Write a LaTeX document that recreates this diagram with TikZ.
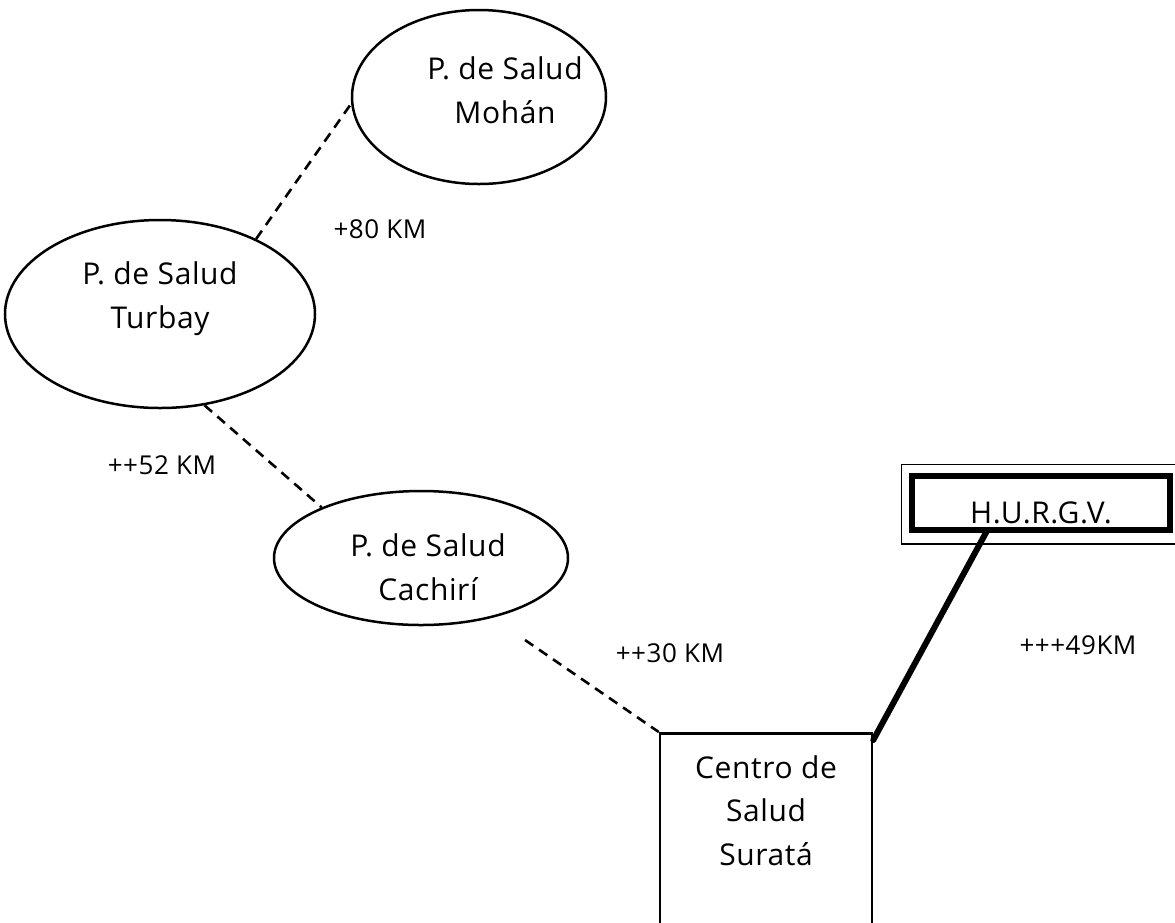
\documentclass[tikz,border=0pt]{standalone}
\usepackage{fontspec}
\setmainfont{Open Sans}[LetterSpace=2]
\newfontfamily\lblfont{Open Sans}[LetterSpace=2]
\usetikzlibrary{shapes.geometric}
\begin{document}
\begin{tikzpicture}[x=1pt,y=-1pt,
  station/.style={ellipse, draw, line width=2.5pt, inner sep=0pt},
  txt/.style={align=center, inner sep=0pt, anchor=base, font=\fontsize{30}{43.5}\selectfont},
  lbl/.style={inner sep=0pt, anchor=base, font=\lblfont\fontsize{26}{30}\selectfont},
  road/.style={line width=2.6pt, dash pattern=on 10pt off 7pt},
  mainroad/.style={line width=6pt, line cap=round}]
\useasboundingbox (0,0) rectangle (1175,922);
% stations
\node[station, minimum width=254pt, minimum height=174pt] (mohan) at (479,97) {};
\node[txt] (mohant) at (505,123) {P. de Salud\\Mohán};
\node[station, minimum width=310pt, minimum height=188pt] (turbay) at (160,314) {};
\node[txt] (turbayt) at (160,328) {P. de Salud\\Turbay};
\node[station, minimum width=294pt, minimum height=134pt] (cachiri) at (421,558) {};
\node[txt] (cachirit) at (428,600) {P. de Salud\\Cachirí};
% centro de salud
\node[draw, line width=2.5pt, anchor=north, minimum width=212pt, inner xsep=0pt, inner ysep=25pt,
      text height=107pt, text depth=120pt, align=center, font=\fontsize{30}{43.5}\selectfont]
  (surata) at (766,732) {Centro de\\Salud\\Suratá};
% hospital
\node[draw, line width=5.5pt, minimum width=258pt, minimum height=54pt, inner sep=0pt,
      text height=47pt, text depth=7pt, font=\fontsize{30}{43.5}\selectfont]
  (hurgv) at (1041,503) {H.U.R.G.V.};
\draw[line width=1.5pt] ([shift={(-8pt,9pt)}]hurgv.north west) rectangle ([shift={(10pt,-11pt)}]hurgv.south east);
% connectors
\coordinate (c1) at (525,640);
\draw[road] (turbay.38.9) -- (mohan.183.6);
\draw[road] (turbay.-64.5) -- (cachiri.153.7);
\draw[road] (c1) -- (surata.north west);
\draw[mainroad] ([xshift=-54pt,yshift=2pt]hurgv.south) -- ([yshift=-8pt]surata.north east);
% distances
\node[lbl] (d1) at (380,238) {+80 KM};
\node[lbl] (d2) at (162,474) {++52 KM};
\node[lbl] (d3) at (670,662) {++30 KM};
\node[lbl] (d4) at (1078,654) {+++49KM};
\end{tikzpicture}
\end{document}
